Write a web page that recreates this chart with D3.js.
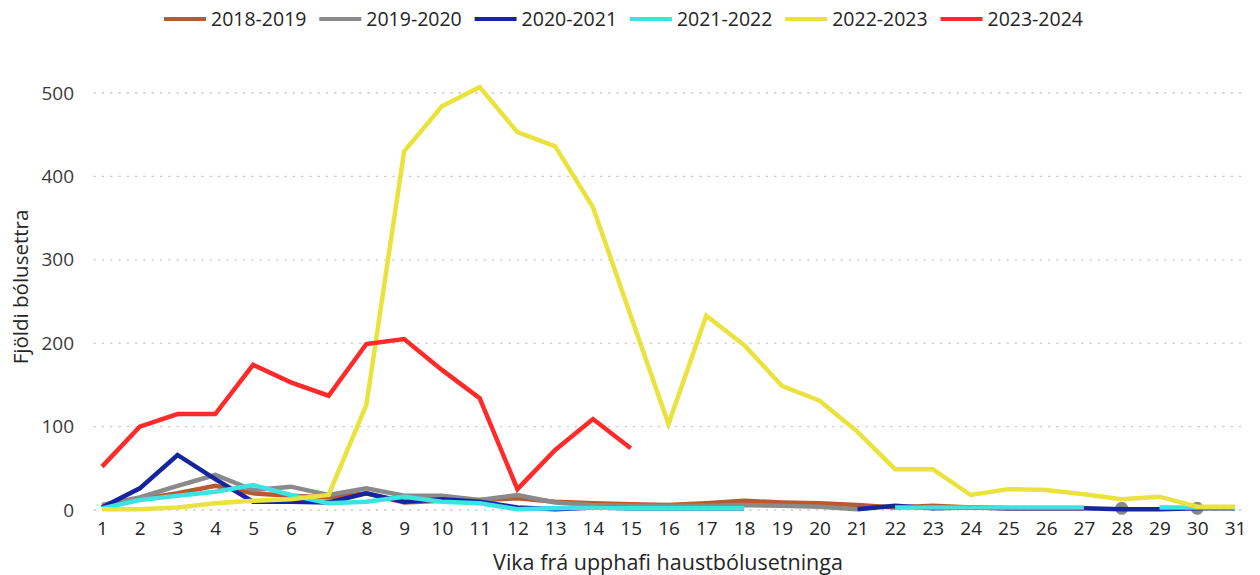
<!DOCTYPE html>
<html><head><meta charset="utf-8">
<script src="https://cdn.jsdelivr.net/npm/d3@7"></script>
<style>
body{margin:0;background:#fff;}
svg{display:block;font-family:"Open Sans",sans-serif;}
</style></head>
<body><svg id="c" width="1260" height="575"></svg>
<script>
const weeks = d3.range(1, 32);
const seriesNames = ["2018-2019","2019-2020","2020-2021","2021-2022","2022-2023","2023-2024"];
const seriesColors = ["#B8592E","#8A8A8A","#16259E","#3CE3E0","#EAE33D","#FF2A2A"];
const s2018 = [4,13,20,29,20,17,15,20,9,11,12,14,10,8,7,6,8,11,9,8,6,3,5,3,2,2,2,null,null,null,null];
const s2019 = [6,15,29,42,24,28,18,26,17,17,12,18,9,6,5,5,5,6,5,4,1,null,null,null,null,null,null,2,null,2,null];
const s2020 = [3,26,66,37,10,10,9,20,10,13,10,3,1,3,2,2,2,2,null,null,1,5,2,3,2,2,2,1,1,2,2];
const s2021 = [2,12,17,22,30,18,8,10,16,10,8,1,2,3,2,2,2,2,null,null,null,3,3,3,3,3,3,null,3,3,3];
const s2022 = [1,1,3,8,11,13,18,126,430,484,507,453,436,363,233,103,233,198,149,131,94,49,49,18,25,24,19,13,16,4,4];
const s2023 = [52,100,115,115,174,153,137,199,205,168,134,25,72,109,74,null,null,null,null,null,null,null,null,null,null,null,null,null,null,null,null];
const yTicks = [0,100,200,300,400,500];
const allSeries = [s2018,s2019,s2020,s2021,s2022,s2023];

const svg = d3.select("#c");
const x = d3.scaleLinear().domain([1,31]).range([102,1235]);
const y = d3.scaleLinear().domain([0,500]).range([510,93]);

// gridlines
svg.append("g").selectAll("line").data(yTicks).join("line")
  .attr("x1",94).attr("x2",1242)
  .attr("y1",d=>y(d)).attr("y2",d=>y(d))
  .attr("stroke","#c8c8c8").attr("stroke-width",1.3)
  .attr("stroke-dasharray","1.3,7").attr("stroke-linecap","round");

// y axis labels
const yAxis = svg.append("g").attr("transform","translate(74,0)")
  .call(d3.axisLeft(y).tickValues(yTicks).tickSize(0).tickPadding(0));
yAxis.select(".domain").remove();
yAxis.selectAll("text").attr("font-size",19).attr("fill","#3a3a3a")
  .attr("font-family","'Open Sans',sans-serif");

// x axis labels
const xAxis = svg.append("g").attr("transform","translate(0,521)")
  .call(d3.axisBottom(x).tickValues(weeks).tickFormat(d3.format("d")).tickSize(0).tickPadding(0));
xAxis.select(".domain").remove();
xAxis.selectAll("text").attr("font-size",19).attr("fill","#252525")
  .attr("font-family","'Open Sans',sans-serif");

// axis titles
svg.append("text").attr("x",668).attr("y",570).attr("text-anchor","middle")
  .attr("font-size",21.5).attr("fill","#252525").text("Vika frá upphafi haustbólusetninga");
svg.append("text").attr("transform","translate(28,287) rotate(-90)").attr("text-anchor","middle")
  .attr("font-size",20.5).attr("fill","#252525").text("Fjöldi bólusettra");

// lines
const line = d3.line().defined(d=>d.v!==null).x(d=>x(d.w)).y(d=>y(d.v));
allSeries.forEach((vals,i)=>{
  const pts = vals.map((v,j)=>({w:weeks[j],v:v}));
  svg.append("path").datum(pts).attr("d",line)
    .attr("fill","none").attr("stroke",seriesColors[i]).attr("stroke-width",4.5)
    .attr("stroke-linejoin","miter").attr("stroke-linecap","butt");
  const iso = pts.filter((p,j)=>p.v!==null && (j===0||vals[j-1]===null) && (j===vals.length-1||vals[j+1]===null));
  svg.append("g").selectAll("circle").data(iso).join("circle")
    .attr("cx",d=>x(d.w)).attr("cy",d=>y(d.v)).attr("r",6.5).attr("fill",seriesColors[i]);
});

// legend
const lg = svg.append("g");
seriesNames.forEach((n,i)=>{
  const x0 = 164 + i*155.3;
  lg.append("line").attr("x1",x0).attr("x2",x0+42).attr("y1",19).attr("y2",19)
    .attr("stroke",seriesColors[i]).attr("stroke-width",4);
  lg.append("text").attr("x",x0+47).attr("y",26).attr("font-size",19.5).attr("fill","#252525").text(n);
});
</script></body></html>
